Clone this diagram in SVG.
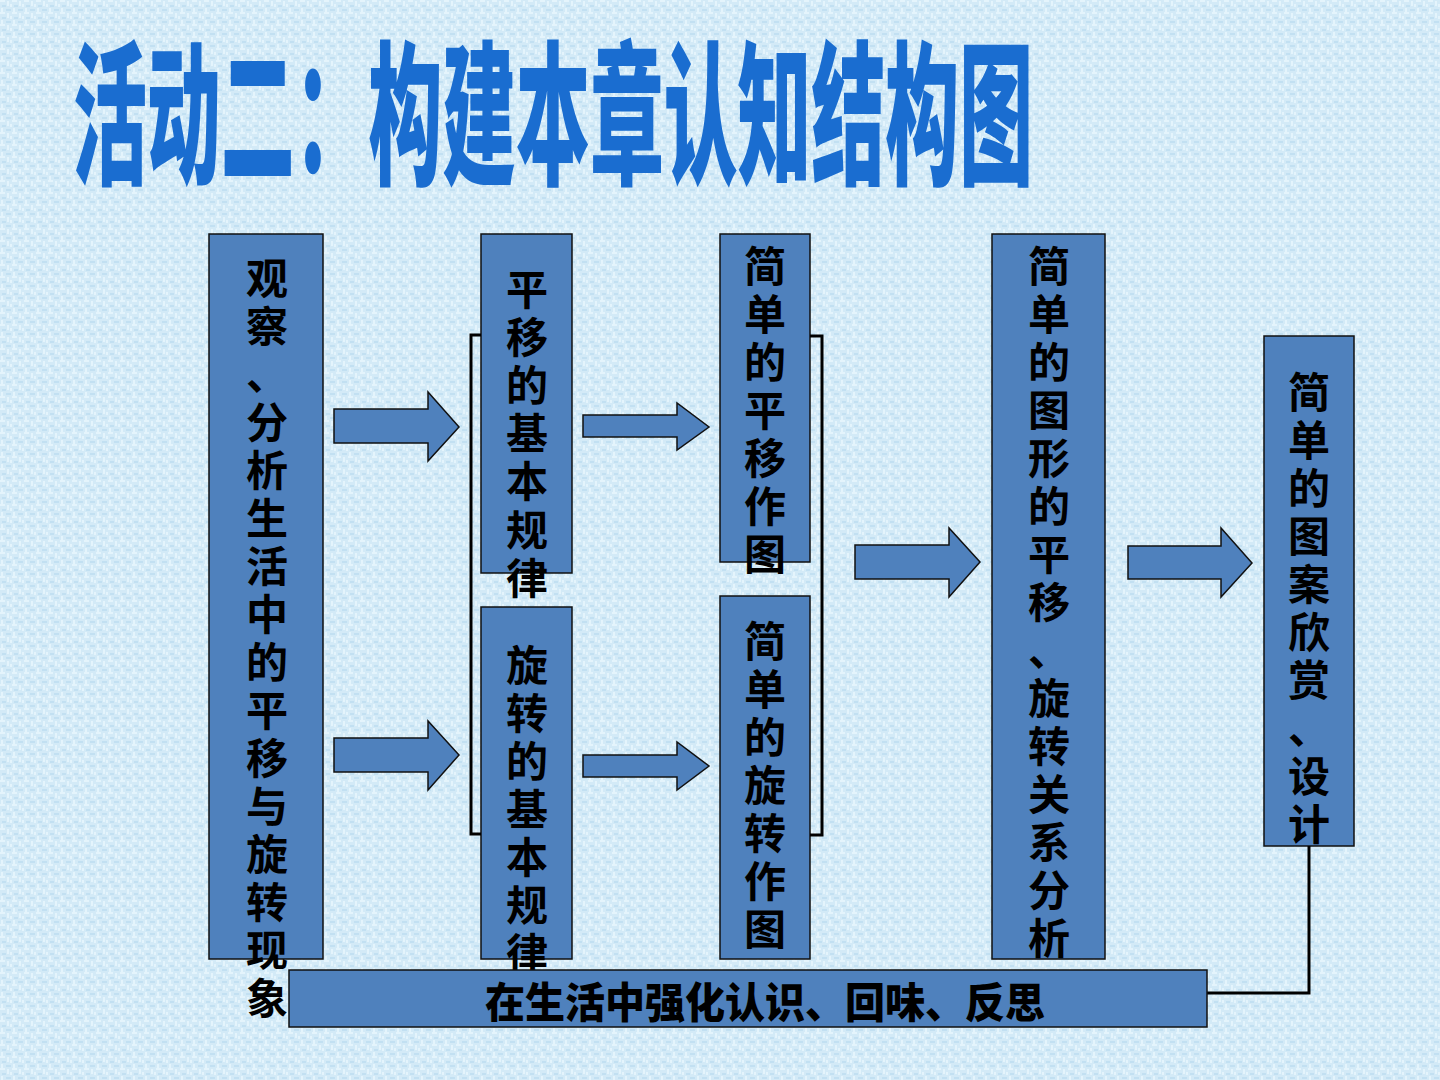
<svg xmlns="http://www.w3.org/2000/svg" width="1440" height="1080" viewBox="0 0 1440 1080">
<defs>
<pattern id="tex" width="12" height="12" patternUnits="userSpaceOnUse">
<rect width="12" height="12" fill="#d3eaf7"/>
<rect x="0" y="0" width="5" height="2" fill="#e4f4fc"/>
<rect x="7" y="1" width="2" height="5" fill="#e4f4fc"/>
<rect x="2" y="5" width="4" height="2" fill="#c2e0f2"/>
<rect x="1" y="8" width="2" height="4" fill="#e4f4fc"/>
<rect x="6" y="9" width="5" height="2" fill="#c2e0f2"/>
<rect x="10" y="4" width="2" height="3" fill="#e4f4fc"/>
</pattern>
<style>
.box{fill:#4f81bd;stroke:#111;stroke-width:1.5}
.arr{fill:#4f81bd;stroke:#111;stroke-width:1.5;stroke-linejoin:miter}
.ln{fill:none;stroke:#000;stroke-width:3}
.t{font-family:"Noto Sans CJK SC","Noto Sans CJK JP",sans-serif;font-weight:700;font-size:42px;fill:#000;text-anchor:middle}
.title{font-family:"Noto Sans CJK SC","Noto Sans CJK JP",sans-serif;font-weight:900;font-size:155px;fill:#1a6dd0}
.bt{font-family:"Noto Sans CJK SC","Noto Sans CJK JP",sans-serif;font-weight:900;font-size:42px;fill:#000}
</style>
</defs>
<rect width="1440" height="1080" fill="url(#tex)"/>
<text class="title" x="73" y="172" textLength="960" lengthAdjust="spacingAndGlyphs">活动二：构建本章认知结构图</text>

<g id="node-observe">
<rect class="box" x="209" y="234" width="114" height="725"/>
<text class="t"><tspan x="267" y="294">观</tspan><tspan x="267" y="342">察</tspan><tspan x="267" y="390">、</tspan><tspan x="267" y="438">分</tspan><tspan x="267" y="486">析</tspan><tspan x="267" y="534">生</tspan><tspan x="267" y="582">活</tspan><tspan x="267" y="630">中</tspan><tspan x="267" y="678">的</tspan><tspan x="267" y="726">平</tspan><tspan x="267" y="774">移</tspan><tspan x="267" y="822">与</tspan><tspan x="267" y="870">旋</tspan><tspan x="267" y="918">转</tspan><tspan x="267" y="966">现</tspan><tspan x="267" y="1014">象</tspan></text>
</g>

<g id="node-translate-rule">
<rect class="box" x="481" y="234" width="91" height="339"/>
<text class="t"><tspan x="527" y="305">平</tspan><tspan x="527" y="353">移</tspan><tspan x="527" y="401">的</tspan><tspan x="527" y="449">基</tspan><tspan x="527" y="497">本</tspan><tspan x="527" y="546">规</tspan><tspan x="527" y="594">律</tspan></text>
</g>

<g id="node-rotate-rule">
<rect class="box" x="481" y="607" width="91" height="352"/>
<text class="t"><tspan x="527" y="681">旋</tspan><tspan x="527" y="729">转</tspan><tspan x="527" y="777">的</tspan><tspan x="527" y="825">基</tspan><tspan x="527" y="873">本</tspan><tspan x="527" y="921">规</tspan><tspan x="527" y="969">律</tspan></text>
</g>

<g id="node-translate-draw">
<rect class="box" x="720" y="234" width="90" height="328"/>
<text class="t"><tspan x="765" y="282">简</tspan><tspan x="765" y="330">单</tspan><tspan x="765" y="378">的</tspan><tspan x="765" y="426">平</tspan><tspan x="765" y="474">移</tspan><tspan x="765" y="522">作</tspan><tspan x="765" y="570">图</tspan></text>
</g>

<g id="node-rotate-draw">
<rect class="box" x="720" y="596" width="90" height="363"/>
<text class="t"><tspan x="765" y="657">简</tspan><tspan x="765" y="705">单</tspan><tspan x="765" y="753">的</tspan><tspan x="765" y="801">旋</tspan><tspan x="765" y="849">转</tspan><tspan x="765" y="897">作</tspan><tspan x="765" y="945">图</tspan></text>
</g>

<g id="node-relation">
<rect class="box" x="992" y="234" width="113" height="725"/>
<text class="t"><tspan x="1049" y="282">简</tspan><tspan x="1049" y="330">单</tspan><tspan x="1049" y="378">的</tspan><tspan x="1049" y="426">图</tspan><tspan x="1049" y="474">形</tspan><tspan x="1049" y="522">的</tspan><tspan x="1049" y="570">平</tspan><tspan x="1049" y="618">移</tspan><tspan x="1049" y="666">、</tspan><tspan x="1049" y="714">旋</tspan><tspan x="1049" y="762">转</tspan><tspan x="1049" y="810">关</tspan><tspan x="1049" y="858">系</tspan><tspan x="1049" y="906">分</tspan><tspan x="1049" y="954">析</tspan></text>
</g>

<g id="node-design">
<rect class="box" x="1264" y="336" width="90" height="510"/>
<text class="t"><tspan x="1309" y="408">简</tspan><tspan x="1309" y="456">单</tspan><tspan x="1309" y="504">的</tspan><tspan x="1309" y="552">图</tspan><tspan x="1309" y="600">案</tspan><tspan x="1309" y="648">欣</tspan><tspan x="1309" y="696">赏</tspan><tspan x="1309" y="744">、</tspan><tspan x="1309" y="792">设</tspan><tspan x="1309" y="840">计</tspan></text>
</g>

<g id="connectors">
<polygon class="arr" points="334,409 428,409 428,392 459,427 428,461 428,443 334,443"/>
<polygon class="arr" points="334,738 428,738 428,721 459,755 428,790 428,772 334,772"/>
<polygon class="arr" points="583,415 677,415 677,403 709,427 677,450 677,437 583,437"/>
<polygon class="arr" points="583,755 677,755 677,742 709,766 677,790 677,777 583,777"/>
<polygon class="arr" points="855,545 949,545 949,528 980,562 949,597 949,579 855,579"/>
<polygon class="arr" points="1128,546 1221,546 1221,528 1252,563 1221,597 1221,579 1128,579"/>
<path class="ln" d="M481,335 H471 V834 H481"/>
<path class="ln" d="M810,336 H822 V835 H810"/>
<path class="ln" d="M1309,846 V993 H1207"/>
</g>

<g id="node-reflect">
<rect class="box" x="289" y="970" width="918" height="57"/>
<text class="bt" x="485" y="1018" textLength="560" lengthAdjust="spacingAndGlyphs">在生活中强化认识、回味、反思</text>
</g>
</svg>
